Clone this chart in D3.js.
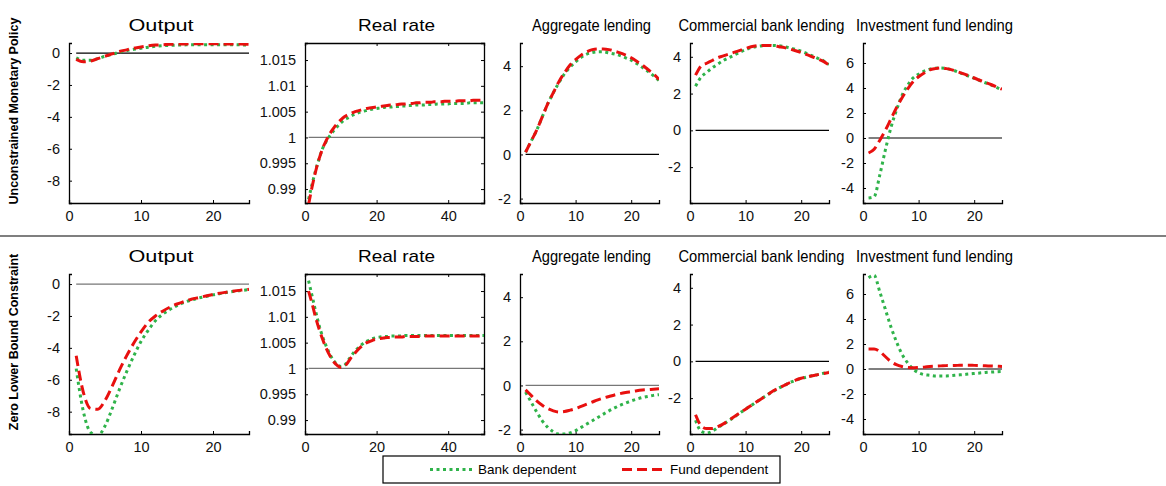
<!DOCTYPE html>
<html>
<head>
<meta charset="utf-8">
<script src="https://cdn.jsdelivr.net/npm/d3@7"></script>
<style>
  body { margin: 0; background: #fff; }
  svg { font-family: Arial, 'Liberation Sans', sans-serif; }
</style>
</head>
<body>
<div id="chart"></div>
<script>
const TITLES = ['Output', 'Real rate', 'Aggregate lending', 'Commercial bank lending', 'Investment fund lending']
const ROW_LABELS = ['Unconstrained Monetary Policy', 'Zero Lower Bound Constraint']
const SERIES_LABELS = ['Bank dependent', 'Fund dependent']

// x ticks per panel kind
const X_TICKS_SHORT = [0, 10, 20]
const X_TICKS_LONG = [0, 20, 40]
const Y_TICKS = [
  [-8, -6, -4, -2, 0],
  [0.99, 0.995, 1, 1.005, 1.01, 1.015],
  [-2, 0, 2, 4],
  [-2, 0, 2, 4],
  [-4, -2, 0, 2, 4, 6],
]

// row 1: unconstrained
const outBank1 = [-0.3,-0.45,-0.45,-0.35,-0.2,-0.08,0.05,0.15,0.23,0.3,0.37,0.42,0.46,0.48,0.5,0.51,0.52,0.52,0.52,0.52,0.52,0.52,0.52,0.51,0.5]
const outFund1 = [-0.4,-0.55,-0.5,-0.35,-0.2,-0.05,0.1,0.2,0.3,0.38,0.45,0.5,0.52,0.55,0.56,0.57,0.58,0.58,0.58,0.58,0.58,0.57,0.57,0.56,0.55]
const rateBank1 = [0.988,0.991,0.9937,0.996,0.998,0.9993,1.0004,1.0013,1.0021,1.0028,1.0034,1.0038,1.0042,1.0045,1.0048,1.005,1.0052,1.0054,1.0055,1.0056,
  1.0057,1.0058,1.0059,1.0059,1.006,1.006,1.0061,1.0061,1.0062,1.0062,1.0063,1.0063,1.0063,1.0064,1.0064,1.0064,1.0065,1.0065,1.0065,1.0065,
  1.0066,1.0066,1.0066,1.0066,1.0066,1.0067,1.0067,1.0067,1.0067,1.0067]
const rateFund1 = [0.987,0.9905,0.9935,0.996,0.998,0.9995,1.0008,1.0018,1.0027,1.0034,1.004,1.0044,1.0047,1.005,1.0052,1.0054,1.0056,1.0057,1.0058,1.0059,
  1.006,1.0061,1.0062,1.0063,1.0063,1.0064,1.0065,1.0065,1.0066,1.0066,1.0067,1.0067,1.0068,1.0068,1.0068,1.0069,1.0069,1.0069,1.007,1.007,
  1.007,1.007,1.0071,1.0071,1.0071,1.0071,1.0072,1.0072,1.0072,1.0072]
const aggBank1 = [0.1,0.6,1.1,1.7,2.3,2.8,3.25,3.65,3.95,4.2,4.4,4.55,4.62,4.65,4.65,4.6,4.55,4.48,4.38,4.27,4.12,3.95,3.77,3.57,3.35]
const aggFund1 = [0.1,0.6,1.1,1.7,2.3,2.8,3.3,3.7,4.05,4.3,4.5,4.65,4.75,4.78,4.78,4.75,4.68,4.6,4.5,4.38,4.22,4.05,3.85,3.65,3.4]
const comBank1 = [2.4,2.9,3.15,3.4,3.6,3.8,3.95,4.1,4.25,4.38,4.5,4.56,4.6,4.62,4.62,4.6,4.55,4.48,4.4,4.3,4.18,4.05,3.92,3.78,3.58]
const comFund1 = [3.0,3.5,3.65,3.8,3.95,4.05,4.15,4.25,4.35,4.45,4.55,4.6,4.62,4.62,4.6,4.55,4.5,4.42,4.33,4.23,4.12,4.0,3.88,3.75,3.55]
const invBank1 = [-4.8,-4.7,-3.0,-1.0,0.8,2.2,3.4,4.2,4.8,5.1,5.35,5.5,5.58,5.6,5.55,5.45,5.3,5.12,4.95,4.78,4.6,4.42,4.25,4.05,3.85]
const invFund1 = [-1.2,-0.9,-0.2,0.6,1.5,2.4,3.2,3.9,4.5,4.9,5.2,5.45,5.55,5.6,5.55,5.45,5.3,5.15,4.98,4.8,4.62,4.45,4.28,4.1,3.9]

// row 2: zero lower bound
const outBank2 = [-5.3,-8.0,-9.3,-9.5,-8.9,-7.8,-6.6,-5.5,-4.5,-3.6,-2.9,-2.3,-1.9,-1.6,-1.35,-1.15,-1.0,-0.88,-0.78,-0.68,-0.6,-0.52,-0.45,-0.4,-0.35]
const outFund2 = [-4.5,-6.8,-7.8,-7.85,-7.3,-6.4,-5.4,-4.5,-3.7,-3.0,-2.4,-2.0,-1.7,-1.45,-1.25,-1.1,-0.95,-0.85,-0.75,-0.65,-0.57,-0.5,-0.43,-0.38,-0.33]
const rateBank2 = [1.017,1.014,1.011,1.0082,1.006,1.0042,1.0027,1.0015,1.0008,1.0004,1.0006,1.0015,1.0025,1.0034,1.0041,1.0047,1.0052,1.0055,1.0058,1.006,
  1.0061,1.0062,1.0062,1.0063,1.0063,1.0063,1.0063,1.0064,1.0064,1.0064,1.0064,1.0064,1.0064,1.0064,1.0064,1.0064,1.0064,1.0064,1.0064,1.0064,
  1.0064,1.0064,1.0064,1.0064,1.0064,1.0064,1.0064,1.0064,1.0064,1.0064]
const rateFund2 = [1.015,1.0125,1.0098,1.0075,1.0055,1.0038,1.0024,1.0013,1.0006,1.0002,1.0004,1.0012,1.0022,1.003,1.0038,1.0044,1.0049,1.0052,1.0055,1.0057,
  1.0058,1.0059,1.006,1.006,1.0061,1.0061,1.0061,1.0062,1.0062,1.0062,1.0062,1.0062,1.0063,1.0063,1.0063,1.0063,1.0063,1.0063,1.0063,1.0063,
  1.0063,1.0063,1.0063,1.0063,1.0063,1.0063,1.0063,1.0063,1.0063,1.0063]
const aggBank2 = [-0.3,-0.75,-1.2,-1.6,-1.9,-2.1,-2.2,-2.2,-2.15,-2.05,-1.9,-1.75,-1.6,-1.45,-1.3,-1.15,-1.02,-0.9,-0.8,-0.7,-0.62,-0.55,-0.5,-0.45,-0.42]
const aggFund2 = [-0.2,-0.45,-0.7,-0.9,-1.05,-1.15,-1.2,-1.18,-1.12,-1.05,-0.95,-0.85,-0.75,-0.65,-0.57,-0.5,-0.43,-0.37,-0.32,-0.28,-0.24,-0.21,-0.19,-0.17,-0.15]
const comBank2 = [-3.2,-3.8,-3.9,-3.8,-3.6,-3.42,-3.22,-3.02,-2.8,-2.6,-2.4,-2.2,-2.0,-1.8,-1.62,-1.45,-1.3,-1.15,-1.03,-0.93,-0.85,-0.78,-0.72,-0.65,-0.58]
const comFund2 = [-2.9,-3.5,-3.65,-3.65,-3.55,-3.4,-3.2,-3.0,-2.8,-2.6,-2.4,-2.2,-2.0,-1.8,-1.6,-1.45,-1.3,-1.15,-1.02,-0.92,-0.85,-0.78,-0.72,-0.66,-0.6]
const invBank2 = [7.3,7.5,6.2,4.8,3.4,2.2,1.2,0.5,0.0,-0.3,-0.45,-0.5,-0.55,-0.55,-0.55,-0.52,-0.48,-0.45,-0.4,-0.36,-0.32,-0.28,-0.25,-0.22,-0.2]
const invFund2 = [1.6,1.6,1.4,1.0,0.6,0.35,0.2,0.12,0.1,0.12,0.15,0.2,0.23,0.25,0.27,0.28,0.29,0.3,0.3,0.29,0.28,0.26,0.24,0.22,0.2]

const ROWS = [
  [[outBank1, outFund1], [rateBank1, rateFund1], [aggBank1, aggFund1], [comBank1, comFund1], [invBank1, invFund1]],
  [[outBank2, outFund2], [rateBank2, rateFund2], [aggBank2, aggFund2], [comBank2, comFund2], [invBank2, invFund2]],
]

const GREEN = '#2fb34a'
const RED = '#e8100f'

// layout
const PANELS = [
  { x0: 69, x1: 249, xmax: 25, ydom: [-9.4, 0.63], base: 0, tw: 65 },
  { x0: 305, x1: 484, xmax: 50, ydom: [0.9873, 1.0183], base: 1, box: true, tw: 77 },
  { x0: 520, x1: 659, xmax: 25, ydom: [-2.2, 5.05], base: 0, tw: 119 },
  { x0: 690, x1: 829, xmax: 25, ydom: [-3.95, 4.75], base: 0, tw: 166 },
  { x0: 863, x1: 1002, xmax: 25, ydom: [-5.2, 7.6], base: 0, tw: 157 },
]
const ROW_TOP = [43, 274]
const ROW_H = 160

const svg = d3.select('#chart').append('svg').attr('width', 1166).attr('height', 486)

svg.append('line').attr('x1', 0).attr('x2', 1166).attr('y1', 236).attr('y2', 236)
  .attr('stroke', '#000').attr('stroke-width', 1.2)

ROWS.forEach((row, r) => {
  const top = ROW_TOP[r]
  svg.append('text')
    .attr('transform', `translate(18,${top + ROW_H / 2 - 12}) rotate(-90)`)
    .attr('text-anchor', 'middle')
    .attr('font-size', '12.5px').attr('font-weight', 'bold')
    .text(ROW_LABELS[r])

  row.forEach((pair, c) => {
    const p = PANELS[c]
    const x = d3.scaleLinear().domain([0, p.xmax]).range([p.x0, p.x1])
    const y = d3.scaleLinear().domain(p.ydom).range([top + ROW_H, top])
    const g = svg.append('g')
    const clipId = `clip-${r}-${c}`
    g.append('clipPath').attr('id', clipId).append('rect')
      .attr('x', p.x0).attr('y', top).attr('width', p.x1 - p.x0).attr('height', ROW_H)

    g.append('text').attr('x', (p.x0 + p.x1) / 2 - p.tw / 2 + 2).attr('y', top - 12)
      .attr('font-size', '17px').attr('textLength', p.tw).attr('lengthAdjust', 'spacingAndGlyphs')
      .text(TITLES[c])

    const n = pair[0].length
    g.append('line').attr('x1', x(1)).attr('x2', x(n)).attr('y1', y(p.base)).attr('y2', y(p.base))
      .attr('stroke', c === 1 || (r === 1 && (c === 0 || c === 2)) ? '#777' : '#000').attr('stroke-width', 1.2)

    const xTicks = p.xmax === 50 ? X_TICKS_LONG : X_TICKS_SHORT
    const xAxis = g.append('g').attr('transform', `translate(0,${top + ROW_H})`)
      .call(d3.axisBottom(x).tickValues(xTicks).tickSize(-3).tickPadding(8).tickFormat(d3.format('d')))
    const yAxis = g.append('g').attr('transform', `translate(${p.x0},0)`)
      .call(d3.axisLeft(y).tickValues(Y_TICKS[c]).tickSize(-3).tickPadding(9).tickFormat(d => String(+d.toFixed(3))))
    ;[xAxis, yAxis].forEach(a => {
      a.attr('font-size', '14.5px').attr('font-family', 'Arial, Liberation Sans, sans-serif')
      a.selectAll('text').attr('fill', '#111')
      a.select('.domain').attr('stroke-width', 1.3)
    })
    if (p.box) {
      g.append('g').attr('transform', `translate(0,${top})`)
        .call(d3.axisTop(x).tickValues(xTicks).tickSize(-3).tickFormat(''))
        .select('.domain').attr('stroke-width', 1.3)
      g.append('g').attr('transform', `translate(${p.x1},0)`)
        .call(d3.axisRight(y).tickValues(Y_TICKS[c]).tickSize(-3).tickFormat(''))
        .select('.domain').attr('stroke-width', 1.3)
    }

    const line = d3.line().x((d, i) => x(i + 1)).y(d => y(d)).curve(d3.curveMonotoneX)
    g.append('path').datum(pair[0]).attr('d', line).attr('clip-path', `url(#${clipId})`)
      .attr('fill', 'none').attr('stroke', GREEN).attr('stroke-width', 3).attr('stroke-dasharray', '3,3.5')
    g.append('path').datum(pair[1]).attr('d', line).attr('clip-path', `url(#${clipId})`)
      .attr('fill', 'none').attr('stroke', RED).attr('stroke-width', 3).attr('stroke-dasharray', '10,5')
  })
})

// legend
const legend = svg.append('g')
legend.append('rect').attr('x', 383).attr('y', 456).attr('width', 397).attr('height', 27)
  .attr('fill', '#fff').attr('stroke', '#000').attr('stroke-width', 1.2)
const legendItems = [
  { label: SERIES_LABELS[0], color: GREEN, dash: '3,3.5', x: 430 },
  { label: SERIES_LABELS[1], color: RED, dash: '10,5', x: 622 },
]
legendItems.forEach(d => {
  legend.append('line').attr('x1', d.x).attr('x2', d.x + 44).attr('y1', 469.5).attr('y2', 469.5)
    .attr('stroke', d.color).attr('stroke-width', 3).attr('stroke-dasharray', d.dash)
  legend.append('text').attr('x', d.x + 48).attr('y', 474).attr('font-size', '13.5px').text(d.label)
})
</script>
</body>
</html>
